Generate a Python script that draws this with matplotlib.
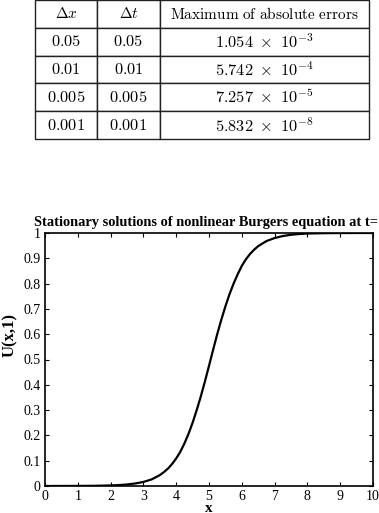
import numpy as np
from matplotlib import pyplot as plt

# table of errors
dx_vals = ['0.05', '0.01', '0.005', '0.001']
dt_vals = ['0.05', '0.01', '0.005', '0.001']
err_mant = ['1.054', '5.742', '7.257', '5.832']
err_exp = [-3, -4, -5, -8]
headers = [r'$\Delta x$', r'$\Delta t$', r'$\mathrm{Maximum\ of\ absolute\ errors}$']

# stationary solution U(x,1)
x_vals = [0, 0.5, 1, 1.5, 2, 2.25, 2.5, 2.75, 3, 3.25, 3.5, 3.625, 3.75, 3.875,
          4, 4.125, 4.25, 4.375, 4.5, 4.625, 4.75, 4.875, 5, 5.125, 5.25,
          5.375, 5.5, 5.625, 5.75, 5.875, 6, 6.125, 6.25, 6.375, 6.5, 6.75, 7,
          7.25, 7.5, 7.75, 8, 8.5, 9, 9.5, 10]
u_vals = [0.0, 0.0001, 0.0003, 0.0008, 0.0022, 0.0036, 0.006, 0.010, 0.016,
          0.026, 0.043, 0.055, 0.069, 0.087, 0.109, 0.135, 0.168, 0.206, 0.25,
          0.30, 0.354, 0.413, 0.475, 0.538, 0.60, 0.657, 0.71, 0.758, 0.80,
          0.837, 0.87, 0.896, 0.917, 0.934, 0.948, 0.968, 0.980, 0.988, 0.993,
          0.996, 0.998, 0.9993, 0.9998, 1.0, 1.0]

plt.rcParams['mathtext.fontset'] = 'cm'

fig = plt.figure(figsize=(3.79, 5.13), dpi=100)

# table
tax = fig.add_axes([35 / 379, 1 - 139 / 513, 334 / 379, 139 / 513])
tax.axis('off')
cells = []
for i in range(len(dx_vals)):
    cells.append(['$' + dx_vals[i] + '$', '$' + dt_vals[i] + '$',
                  r'$%s\ \times\ 10^{%d}$' % (err_mant[i], err_exp[i])])
tbl = tax.table(cellText=cells, colLabels=headers, cellLoc='center',
                colWidths=[62 / 334, 63 / 334, 209 / 334], bbox=[0, 0, 1, 1])
tbl.auto_set_font_size(False)
for (r, c), cell in tbl.get_celld().items():
    cell.set_linewidth(1.0)
    cell.set_edgecolor('#222222')
    cell.get_text().set_fontsize(11 if r == 0 else 11.8)

# plot
ax = fig.add_axes([45 / 379, 1 - 486 / 513, 328 / 379, 253 / 513])
ax.plot(x_vals, u_vals, color='black', linewidth=1.6)
ax.set_xlim(0, 10)
ax.set_ylim(0, 1)
ax.set_xticks(range(0, 11))
ax.set_yticks(np.arange(0, 1.01, 0.1))
ax.set_yticklabels(['0', '0.1', '0.2', '0.3', '0.4', '0.5', '0.6', '0.7',
                    '0.8', '0.9', '1'])
ax.tick_params(direction='in', length=3, width=0.8, top=True, right=True,
               labelsize=10, pad=3)
for lbl in ax.get_xticklabels() + ax.get_yticklabels():
    lbl.set_family('Liberation Serif')
for sp in ax.spines.values():
    sp.set_linewidth(1.2)

ax.set_title('Stationary solutions of nonlinear Burgers equation at t=1',
             family='Liberation Serif', fontweight='bold', fontsize=10.4, pad=5)
ax.set_xlabel('x', family='Liberation Serif', fontweight='bold', fontsize=11,
              labelpad=-1)
fig.text(10 / 379, 1 - 335 / 513, 'U(x,1)', family='Liberation Serif',
         fontweight='bold', fontsize=12, rotation=90, ha='center', va='center')

fig.savefig('out.png', dpi=100)
